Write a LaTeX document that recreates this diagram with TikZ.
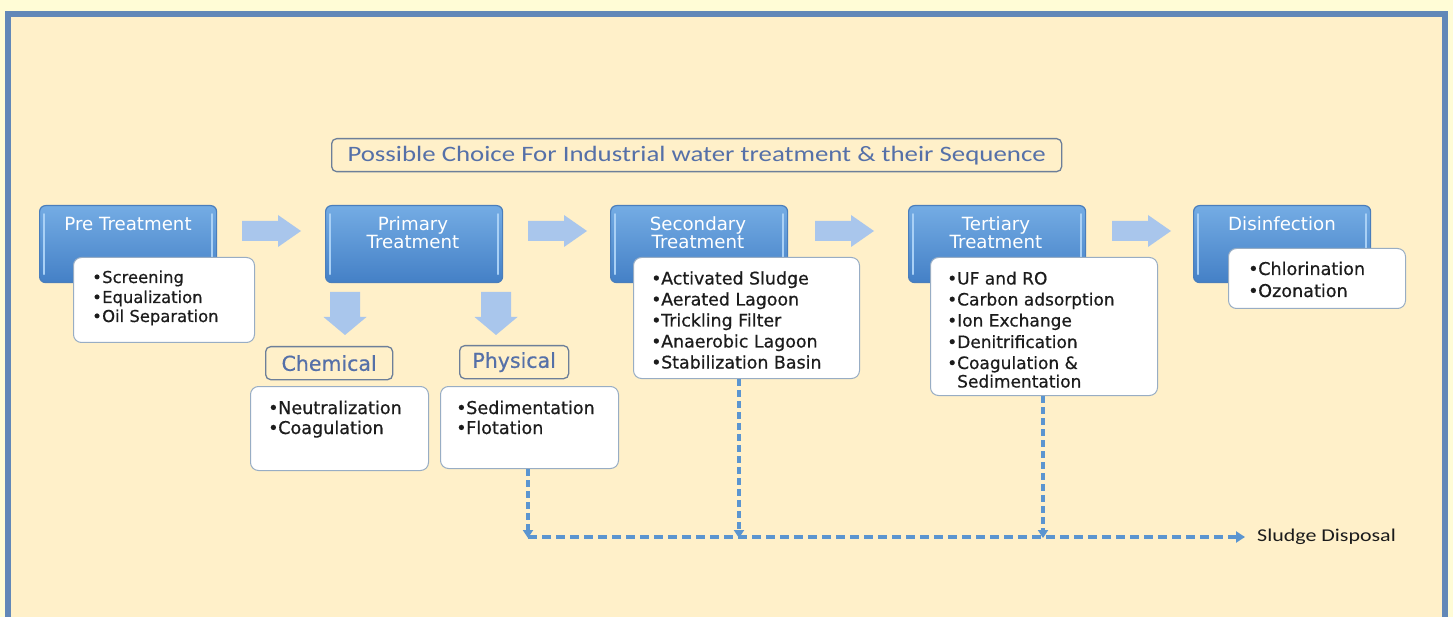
\documentclass[tikz,border=0pt]{standalone}
\usepackage{fontspec}
\setmainfont{DejaVu Sans}
\newfontfamily\heavyfont[FakeBold=0.6]{DejaVu Sans}
\newfontfamily\calfont{Carlito}
\usetikzlibrary{arrows.meta}
\definecolor{pagebg}{HTML}{FFFCD6}
\definecolor{frameblue}{HTML}{6288B8}
\definecolor{innerbg}{HTML}{FFF0C9}
\definecolor{hdrtop}{HTML}{74ACE4}
\definecolor{hdrbot}{HTML}{4480C6}
\definecolor{hdrline}{HTML}{4A7EBC}
\definecolor{hdrglow}{HTML}{A9D0F5}
\definecolor{arrowfill}{HTML}{A9C6EC}
\definecolor{lstline}{HTML}{98ADC4}
\definecolor{titleline}{HTML}{6D7F99}
\definecolor{titletext}{HTML}{5570A8}
\definecolor{dashblue}{HTML}{5B95D0}
\definecolor{txt}{HTML}{1C1C1C}
\newcommand{\bul}{\makebox[10pt][l]{\textbullet}}
\tikzset{
  hdr/.style={draw=hdrline, line width=1.2pt, rounded corners=6pt, top color=hdrtop, bottom color=hdrbot, minimum width=177pt, minimum height=77pt, anchor=north west, inner sep=0pt},
  lstbox/.style={draw=lstline, line width=1pt, rounded corners=8pt, fill=white, anchor=north west, inner sep=0pt},
  htext/.style={text=white, font=\fontsize{18.2}{17}\selectfont, align=center, inner sep=0pt},
  item/.style={text=txt, anchor=base west, inner sep=0pt},
  blockarrow/.style={fill=arrowfill, draw=none},
  glow/.style={draw=hdrglow, line width=1.6pt, line cap=round},
  labbox/.style={draw=titleline, line width=1.3pt, rounded corners=5pt, fill=innerbg, text=titletext, inner sep=0pt, anchor=north west},
  sludge/.style={draw=dashblue, line width=3.2pt, dash pattern=on 9pt off 5pt},
}
\begin{document}
\begin{tikzpicture}[x=1pt,y=-1pt]
\useasboundingbox (0,0) rectangle (1453,617);
\fill[pagebg] (0,0) rectangle (1453,617);
\fill[innerbg] (8,14) rectangle (1445,630);
\draw[frameblue, line width=6pt] (8,14) rectangle (1445,630);

% title
\node[labbox, minimum width=730pt, minimum height=33pt] (title) at (331,138) {};
\node[text=titletext, font=\calfont\fontsize{22}{20}\selectfont, inner sep=0pt] (titlet) at (title.center) {\scalebox{1.22}[1]{Possible Choice For Industrial water treatment \& their Sequence}};

% header boxes
\foreach \n/\x in {pre/39, pri/325, sec/610, ter/908, dis/1193}{
  \node[hdr] (\n) at (\x,205) {};
  \draw[glow] ([xshift=5pt,yshift=-9pt]\n.north west) -- ([xshift=5pt,yshift=9pt]\n.south west);
  \draw[glow] ([xshift=-5pt,yshift=-9pt]\n.north east) -- ([xshift=-5pt,yshift=9pt]\n.south east);
}
\node[htext] (pret) at (128,224) {Pre Treatment};
\node[htext] (prit) at (413,232.5) {Primary\\Treatment};
\node[htext] (sect) at (698,232.5) {Secondary\\Treatment};
\node[htext] (tert) at (996,232.5) {Tertiary\\Treatment};
\node[htext] (dist) at (1282,224) {Disinfection};

% list boxes
\node[lstbox, minimum width=181pt, minimum height=85pt] (prel) at (73,257) {};
\node[lstbox, minimum width=226pt, minimum height=121pt] (secl) at (633,257) {};
\node[lstbox, minimum width=227pt, minimum height=138pt] (terl) at (930,257) {};
\node[lstbox, minimum width=177pt, minimum height=60pt] (disl) at (1228,248) {};
\node[lstbox, minimum width=178pt, minimum height=84pt] (cheml) at (250,386) {};
\node[lstbox, minimum width=178pt, minimum height=82pt] (phyl) at (440,386) {};

% list items
\begin{scope}[font=\heavyfont\fontsize{16.4}{20}\selectfont]
\node[item] (pre1) at (92,283) {\bul Screening};
\node[item] (pre2) at (92,303) {\bul Equalization};
\node[item] (pre3) at (92,322) {\bul Oil Separation};
\end{scope}
\begin{scope}[font=\heavyfont\fontsize{17.4}{20}\selectfont]
\node[item] (sec1) at (651,284.5) {\bul Activated Sludge};
\node[item] (sec2) at (651,305.5) {\bul Aerated Lagoon};
\node[item] (sec3) at (651,326.5) {\bul Trickling Filter};
\node[item] (sec4) at (651,347.5) {\bul Anaerobic Lagoon};
\node[item] (sec5) at (651,368.5) {\bul Stabilization Basin};
\end{scope}
\begin{scope}[font=\heavyfont\fontsize{17}{20}\selectfont]
\node[item] (ter1) at (947,284.5) {\bul UF and RO};
\node[item] (ter2) at (947,305.5) {\bul Carbon adsorption};
\node[item] (ter3) at (947,326.5) {\bul Ion Exchange};
\node[item] (ter4) at (947,348) {\bul Denitrification};
\node[item] (ter5) at (947,369) {\bul Coagulation \&};
\node[item] (ter6) at (957,387.5) {Sedimentation};
\end{scope}
\begin{scope}[font=\heavyfont\fontsize{17.6}{20}\selectfont]
\node[item] (dis1) at (1248,275) {\bul Chlorination};
\node[item] (dis2) at (1248,297) {\bul Ozonation};
\node[item] (chem1) at (268,414) {\bul Neutralization};
\node[item] (chem2) at (268,434) {\bul Coagulation};
\node[item] (phy1) at (456,414) {\bul Sedimentation};
\node[item] (phy2) at (456,434) {\bul Flotation};
\end{scope}

% chemical / physical labels
\node[labbox, minimum width=127pt, minimum height=33pt] (chem) at (265,346) {};
\node[text=titletext, font=\heavyfont\fontsize{20.5}{18}\selectfont, inner sep=0pt] (chemt) at (chem.center) {Chemical};
\node[labbox, minimum width=109pt, minimum height=33pt] (phy) at (459,345) {};
\node[text=titletext, font=\heavyfont\fontsize{20.5}{18}\selectfont, inner sep=0pt] (phyt) at (phy.center) {Physical};

% block arrows (right)
\foreach \x in {242, 528, 815, 1112}{
  \fill[blockarrow] (\x,221) -- ++(36,0) -- ++(0,-6) -- ++(23,16) -- ++(-23,16) -- ++(0,-6) -- ++(-36,0) -- cycle;
}
% block arrows (down)
\coordinate (d1) at (345,292);
\coordinate (d2) at (496,292);
\foreach \c in {d1, d2}{
  \fill[blockarrow] ([xshift=-15pt]\c) -- ++(0,25) -- ++(-6.5,0) -- ++(21.5,18) -- ++(21.5,-18) -- ++(-6.5,0) -- ++(0,-25) -- cycle;
}

% sludge lines
\coordinate (j1) at (528,537);
\coordinate (j2) at (739,537);
\coordinate (j3) at (1043,537);
\node[text=txt, font=\calfont\fontsize{18}{17}\selectfont, anchor=west, inner sep=0pt] (sd) at (1257,537) {\scalebox{1.22}[1]{Sludge Disposal}};
\draw[sludge, dash pattern=on 7pt off 4pt, -{Triangle[length=8pt,width=10pt]}] (phyl.south -| j1) -- ([yshift=-1pt]j1);
\draw[sludge, dash pattern=on 7pt off 4pt, -{Triangle[length=8pt,width=10pt]}] (secl.south -| j2) -- ([yshift=-1pt]j2);
\draw[sludge, dash pattern=on 7pt off 4pt, -{Triangle[length=8pt,width=10pt]}] (terl.south -| j3) -- ([yshift=-1pt]j3);
\draw[sludge, -{Triangle[length=9pt,width=11pt]}] (j1) -- ([xshift=-12pt]sd.west);
\end{tikzpicture}
\end{document}
